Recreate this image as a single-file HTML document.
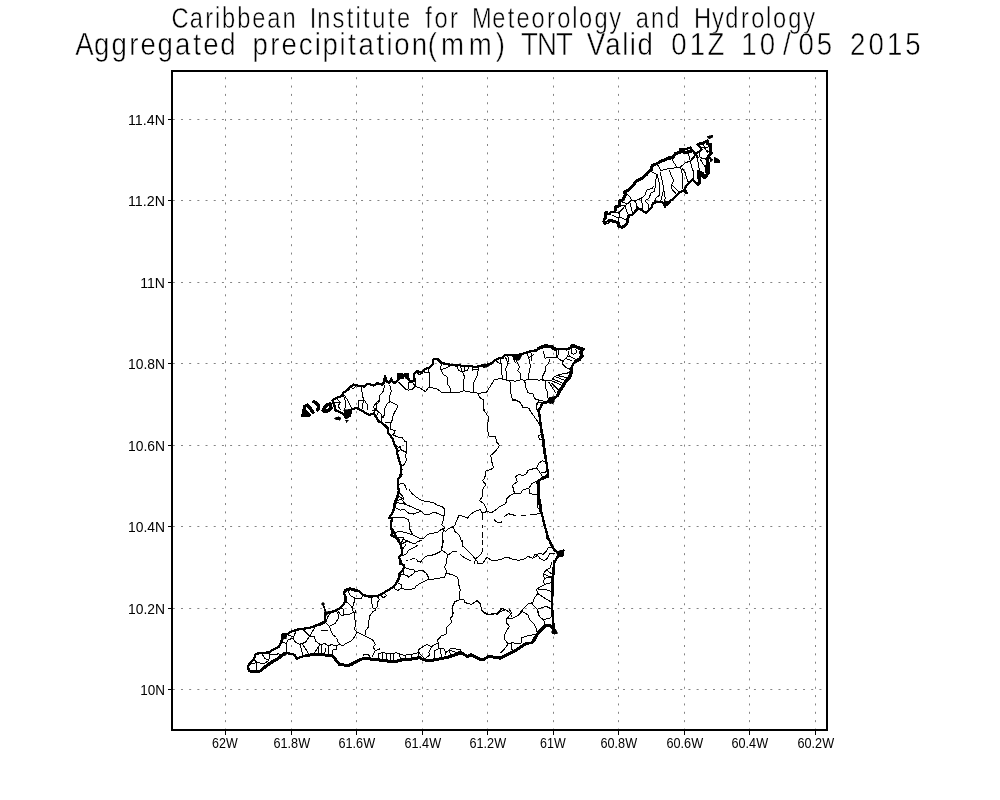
<!DOCTYPE html><html><head><meta charset="utf-8"><title>Aggregated precipitation TNT</title>
<style>
html,body{margin:0;padding:0;background:#fff;}
body{width:1000px;height:800px;overflow:hidden;position:relative;}
svg{position:absolute;left:0;top:0;display:block;filter:grayscale(1);}
text{font-family:"Liberation Sans",sans-serif;fill:#000;}
.t1{font-size:30px;stroke:#fff;stroke-width:0.5px;paint-order:fill stroke;}
.t2{font-size:31.4px;stroke:#fff;stroke-width:0.5px;paint-order:fill stroke;}
.ax{font-size:14.3px;}
.gh{stroke:#848484;stroke-width:1;stroke-dasharray:2 6.185;fill:none;}
.gv{stroke:#848484;stroke-width:1;stroke-dasharray:2 6.35;fill:none;}
.frame{stroke:#000;stroke-width:2;fill:none;shape-rendering:crispEdges;}
.tick{stroke:#000;stroke-width:1;fill:none;shape-rendering:crispEdges;}
.coast{shape-rendering:crispEdges;stroke:#000;stroke-width:2.3;fill:none;stroke-linejoin:round;stroke-linecap:round;}
.thick{shape-rendering:crispEdges;stroke:#000;stroke-width:3.4;fill:none;stroke-linejoin:round;stroke-linecap:round;}
.c3{shape-rendering:crispEdges;stroke:#000;stroke-width:3;fill:none;stroke-linejoin:round;stroke-linecap:round;}
.med{shape-rendering:crispEdges;stroke:#000;stroke-width:1.5;fill:none;stroke-linecap:round;}
.inner{shape-rendering:crispEdges;stroke:#000;stroke-width:1;fill:none;stroke-linejoin:round;stroke-linecap:round;}
</style></head><body>
<svg width="1000" height="800" viewBox="0 0 1000 800">
<rect x="0" y="0" width="1000" height="800" fill="#fff"/>
<g><line class="gv" x1="225.5" y1="730.5" x2="225.5" y2="72"/><line class="gv" x1="291.5" y1="730.5" x2="291.5" y2="72"/><line class="gv" x1="356.5" y1="730.5" x2="356.5" y2="72"/><line class="gv" x1="422.5" y1="730.5" x2="422.5" y2="72"/><line class="gv" x1="487.5" y1="730.5" x2="487.5" y2="72"/><line class="gv" x1="553.5" y1="730.5" x2="553.5" y2="72"/><line class="gv" x1="618.5" y1="730.5" x2="618.5" y2="72"/><line class="gv" x1="684.5" y1="730.5" x2="684.5" y2="72"/><line class="gv" x1="749.5" y1="730.5" x2="749.5" y2="72"/><line class="gv" x1="815.5" y1="730.5" x2="815.5" y2="72"/><line class="gh" x1="172.8" y1="689.5" x2="826" y2="689.5"/><line class="gh" x1="172.8" y1="608.5" x2="826" y2="608.5"/><line class="gh" x1="172.8" y1="526.5" x2="826" y2="526.5"/><line class="gh" x1="172.8" y1="445.5" x2="826" y2="445.5"/><line class="gh" x1="172.8" y1="363.5" x2="826" y2="363.5"/><line class="gh" x1="172.8" y1="282.5" x2="826" y2="282.5"/><line class="gh" x1="172.8" y1="200.5" x2="826" y2="200.5"/><line class="gh" x1="172.8" y1="119.5" x2="826" y2="119.5"/></g>
<g class="inner"><path d="M625.9 192.5 L630.0 197.0 L631.5 200.0 L634.5 200.8 L636.0 203.0 L637.5 207.5 L638.2 208.2 M634.5 200.8 L640.9 198.5 L645.0 195.5 L646.5 190.2 L652.5 188.0 L654.0 185.8 M640.9 198.5 L642.0 203.0 L642.8 207.5 L641.2 209.8 M645.0 200.8 L648.8 198.5 L651.0 193.2 L654.8 191.0 L655.5 181.2 L657.0 174.5 L652.5 172.2 M645.0 200.8 L648.0 203.8 L648.0 208.2 L649.5 209.8 M654.0 203.0 L656.2 197.8 L659.2 195.5 L660.0 187.2 L658.5 179.8 L657.0 174.5 M660.8 201.5 L662.2 194.8 L663.8 189.5 L661.5 177.5 L660.0 172.2 M663.8 203.0 L665.2 198.5 L664.5 194.0 L663.8 189.5 M619.9 200.8 L624.8 203.0 L628.5 203.0 L631.5 200.0 M616.1 207.5 L621.0 206.0 L625.5 205.2 L628.5 203.0 M625.5 205.2 L626.2 210.5 L628.9 215.8 M614.2 212.0 L618.8 212.8 L620.2 217.2 L624.8 219.5 L627.4 219.5 M618.8 212.8 L622.5 209.0 L625.5 205.2 M612.0 215.0 L618.0 218.0 L620.2 217.2 M618.0 218.0 L618.8 222.5 M630.0 203.0 L631.5 209.0 L633.0 214.2 M636.0 203.0 L636.8 206.0 L636.0 210.5 M657.2 164.2 L661.0 170.6 L666.2 169.1 L670.0 168.8 L676.0 167.6 L680.5 167.2 L685.0 162.8 L690.2 161.2 L694.0 157.5 L697.0 153.8 M672.2 159.8 L676.0 165.8 L677.5 167.6 M688.0 153.0 L689.5 157.5 L690.2 161.2 M690.2 161.2 L692.5 169.5 L694.0 172.5 L693.2 179.2 M680.5 167.2 L682.0 173.2 L682.8 180.0 L682.0 185.2 L683.5 190.5 M682.0 168.0 L685.0 172.5 L686.5 177.8 L688.0 181.5 M669.2 170.2 L671.5 176.2 L673.8 180.8 L671.5 185.2 L672.2 189.8 L675.2 192.8 L676.8 195.0 M672.2 185.2 L676.0 189.0 L679.0 192.0 M697.0 154.5 L697.8 161.2 L699.2 168.8 L698.5 175.5 M700.0 159.0 L703.8 165.0 L706.0 168.8 M691.8 158.8 L694.8 155.0 L695.5 153.5 M696.2 153.5 L696.2 157.2 L699.2 158.0 M699.2 153.5 L700.0 157.2 L703.0 158.8 L706.0 158.0 M701.5 173.0 L702.2 176.8 M703.0 144.5 L705.2 148.2 L707.5 152.8 M700.8 146.8 L704.5 148.2 L709.0 146.8 M706.0 149.8 L709.8 152.8 M342.9 393.2 L347.8 400.4 L351.6 408.1 M342.9 393.2 L345.4 401.4 L344.9 410.1 M336.2 398.0 L340.1 402.4 L338.1 406.2 L341.0 410.1 M333.8 402.4 L340.1 402.4 M361.2 387.9 L363.2 398.5 L367.0 404.3 L367.0 410.1 M358.3 408.1 L358.3 400.4 L363.2 400.4 L362.7 408.1 M374.7 413.4 L373.7 406.2 L377.6 401.4 L380.0 400.4 M350.6 386.9 L353.5 388.9 L356.4 385.5 M398.9 382.4 L402.7 386.2 L405.6 389.1 L408.5 390.1 L412.4 389.1 L415.2 386.2 L420.1 388.1 L425.4 391.5 L428.7 387.2 L433.5 388.1 L437.4 389.1 L442.2 392.9 L449.9 392.0 L452.8 392.9 L460.0 392.5 M408.5 382.4 L408.5 388.1 M408.5 382.4 L412.4 382.4 L415.2 386.2 M415.2 378.5 L415.7 386.2 M428.7 368.9 L429.7 378.5 L429.2 387.2 M441.2 363.1 L440.8 369.8 L443.2 374.6 L447.0 376.6 L447.0 383.3 L449.9 387.2 L450.4 392.0 M440.8 369.8 L446.0 367.9 L449.9 366.0 M384.4 385.2 L383.5 391.0 L379.6 395.8 L379.1 401.6 L376.7 404.5 L376.3 409.3 L373.9 412.2 M389.7 385.2 L391.2 391.0 L389.2 397.8 L390.2 401.6 L387.3 403.5 L384.4 409.3 L384.9 413.2 L383.5 417.0 M390.2 401.6 L397.9 405.4 L396.0 410.3 L392.6 417.0 M423.9 369.4 L424.4 372.7 L428.2 372.7 M416.2 371.8 L419.1 374.6 L422.5 373.7 M456.7 365.8 L458.7 370.6 L462.5 371.6 L467.3 370.6 L469.2 366.8 M460.6 366.3 L461.6 371.1 M464.4 366.8 L464.4 371.1 M472.1 367.2 L472.6 370.1 L477.9 369.2 M459.6 392.3 L463.5 390.8 L469.2 391.8 L474.1 392.8 L478.9 393.2 L486.6 392.3 L490.4 386.0 L494.3 379.8 L502.0 378.3 L502.9 379.8 L509.7 380.2 L515.5 381.2 L520.3 379.8 L525.1 380.2 L529.9 379.3 L540.0 380.2 M462.5 372.1 L464.4 376.4 L463.5 383.1 L463.5 390.8 M478.4 368.7 L476.9 376.4 L473.6 383.1 L473.1 391.8 M477.9 393.7 L479.8 397.6 L483.2 399.5 L483.7 408.2 L484.6 412.0 M502.0 363.9 L501.5 371.6 L502.5 378.3 M505.4 357.1 L508.2 363.9 L505.8 368.7 L506.8 379.3 M516.4 361.0 L519.3 366.8 L517.9 370.6 L520.3 373.5 L520.8 379.8 M528.9 358.1 L530.4 365.8 L528.9 373.5 L528.9 379.3 M509.7 380.2 L511.1 387.0 L510.2 390.8 L512.1 398.5 L519.3 401.4 L523.2 407.2 L528.9 408.2 L530.9 412.0 M524.6 380.2 L526.0 387.9 L528.0 392.8 L532.8 393.7 L534.7 398.5 L540.0 400.4 M507.8 355.7 L508.7 361.9 M512.6 356.2 L515.5 362.9 M527.0 353.3 L528.9 358.1 L533.7 354.2 M530.9 351.4 L531.8 361.0 M496.2 361.0 L500.1 363.9 L502.0 363.9 M500.1 358.6 L500.5 363.9 M540.0 379.8 L543.1 380.2 L547.0 380.7 L551.8 380.2 L553.7 377.4 L558.5 374.5 L565.2 373.5 L570.0 372.5 M543.1 350.9 L545.0 358.1 L550.8 357.6 L556.6 357.1 L556.6 350.4 M549.8 359.1 L548.9 362.9 L546.0 365.8 L545.0 371.6 L542.6 376.4 L543.1 380.2 M556.6 357.1 L560.4 360.0 L563.3 360.5 L562.4 363.9 L566.2 367.7 L570.0 369.2 M563.3 360.5 L567.2 357.1 L570.0 355.2 M568.1 351.4 L569.1 355.2 M572.0 349.4 L571.0 353.3 L573.9 354.2 L576.8 352.3 L575.8 349.4 M565.2 358.1 L572.0 361.0 M567.2 355.7 L574.9 358.6 M554.6 376.4 L564.3 380.2 M552.7 381.2 L561.4 385.1 M551.8 383.1 L558.5 389.9 M548.9 382.2 L555.6 392.8 M546.0 381.2 L545.0 387.0 L547.9 392.8 L547.9 397.6 M556.6 375.4 L566.2 377.4 M553.7 379.3 L562.4 383.1 M540.2 400.4 L545.0 401.4 M558.5 350.4 L558.5 354.2 L556.6 357.1 M542.4 402.9 L537.5 402.9 L536.1 407.7 L538.5 410.6 M541.4 433.7 L538.5 436.1 L539.5 439.5 L542.8 439.9 M512.5 400.0 L519.2 401.4 L523.1 407.7 L527.9 407.7 L532.7 414.4 L537.5 421.2 L539.5 424.1 M527.9 470.3 L536.6 467.9 L538.5 463.5 L542.4 460.6 L544.8 461.6 M536.6 467.9 L540.4 473.2 L545.2 472.2 L547.2 471.2 M540.4 473.2 L542.4 477.0 M535.4 399.0 L539.2 400.4 L536.4 404.3 L536.4 409.1 L539.2 411.0 M537.1 496.9 L537.1 507.5 L539.5 508.5 L540.0 512.4 M528.9 470.0 L526.0 473.9 L523.1 475.8 L519.2 474.3 L515.4 476.7 L517.3 481.6 L512.5 485.4 L514.4 493.1 L509.6 496.0 L506.7 498.9 L505.8 503.7 L500.0 506.6 M514.4 493.1 L520.2 494.1 L523.1 489.7 L528.9 488.3 L531.8 483.5 L537.5 480.6 M528.9 488.3 L529.8 493.6 L537.1 495.0 M500.0 522.5 L501.4 521.5 M504.3 516.7 L508.7 513.3 L512.5 515.0 L515.4 515.2 M521.2 515.2 L526.0 515.2 M529.8 515.0 L533.7 514.6 L540.0 513.3 M546.2 536.4 L547.2 539.3 L549.1 540.3 M500.0 560.2 L502.9 558.3 L507.7 557.3 L513.5 559.7 L519.2 560.2 L525.0 558.8 L527.9 556.4 L532.7 558.3 L534.6 554.9 L539.5 553.5 L543.3 554.4 L546.2 551.5 L548.1 547.7 L552.0 547.2 M532.7 558.3 L537.5 555.4 L540.4 558.8 L544.3 560.7 L547.2 558.3 L550.0 553.5 L554.9 553.5 M552.0 562.1 L550.0 567.9 L546.2 569.8 L543.3 573.7 L544.3 578.5 L543.3 582.4 L545.2 584.3 L536.6 589.1 L537.5 593.9 L534.6 597.8 L532.7 602.6 L527.9 604.0 L522.1 610.3 L516.4 617.0 M546.2 569.8 L552.9 574.6 M543.3 573.7 L552.5 578.5 M544.3 578.5 L552.0 576.6 M545.2 584.3 L552.5 582.4 M538.5 590.0 L545.2 589.1 L552.0 592.0 M538.5 593.9 L544.3 597.8 L552.0 602.6 M531.8 603.5 L537.5 609.3 L546.2 606.4 L552.0 609.3 M537.5 609.3 L539.5 617.0 M500.0 608.3 L505.8 609.8 L510.6 613.2 L511.6 617.0 M522.1 611.4 L527.9 614.8 L529.8 619.6 L533.7 623.5 L536.6 629.2 L537.1 632.1 M522.1 611.4 L519.2 614.8 L512.5 618.2 L506.7 618.7 L506.3 622.5 L509.6 626.4 L506.7 630.2 L504.3 636.0 L504.8 639.8 L508.2 643.7 L504.8 648.5 L501.0 652.4 M509.6 610.0 L511.6 612.9 L508.7 616.7 L506.7 618.7 M537.5 610.0 L538.5 615.8 L543.3 619.6 L545.2 624.4 M543.3 619.6 L550.0 618.2 L552.5 615.8 M521.7 642.7 L521.2 637.9 L528.9 635.5 L535.6 634.5 M508.2 643.7 L512.5 642.7 L518.3 643.7 L521.7 642.7 M511.6 643.7 L511.1 648.5 L513.5 651.4 M452.7 610.0 L453.2 613.9 L450.8 617.7 L451.3 622.5 L446.9 627.3 L446.0 634.1 L441.2 636.0 L437.8 639.8 L438.3 645.6 L439.2 648.5 M438.3 642.7 L431.6 646.6 L426.7 644.6 L420.0 648.5 M431.6 646.6 L428.7 652.4 L429.6 655.2 L425.8 658.1 M434.4 659.1 L434.9 650.4 L439.2 648.5 L444.1 649.0 L446.0 652.4 L448.9 650.4 L450.8 648.5 L460.4 649.5 L461.4 652.4 M440.7 648.5 L441.2 657.2 M444.6 649.5 L446.0 655.2 M449.8 650.4 L456.6 652.4 L460.4 651.4 M448.9 650.4 L450.8 655.2 M481.6 610.0 L483.5 612.9 L488.3 614.8 L494.1 612.9 L497.0 614.3 L501.8 611.0 L504.7 610.0 M378.5 653.3 L383.3 652.8 L390.1 653.8 L396.8 652.8 L403.5 655.2 L409.3 654.8 L416.0 653.3 L418.9 652.4 M382.4 653.3 L382.8 659.1 M386.2 653.3 L387.2 660.0 M390.1 653.8 L390.5 660.0 M393.4 653.3 L393.9 660.0 M399.7 653.8 L400.2 659.1 M405.4 655.2 L405.4 658.6 M411.2 654.3 L411.2 658.1 M378.5 653.3 L379.0 658.6 M376.1 610.0 L372.7 611.9 L369.8 615.8 L368.9 620.6 L368.9 626.4 L366.0 630.2 L365.5 635.0 M355.4 610.0 L354.4 617.7 L355.9 623.5 L354.4 629.2 L357.3 632.1 L364.1 635.5 L368.9 637.9 L373.7 640.8 L375.1 644.6 L373.2 647.5 L375.6 650.4 L373.7 653.3 L372.7 656.2 M357.3 632.1 L354.4 637.0 L351.6 640.8 L345.8 643.7 L342.9 645.6 L340.0 644.6 M375.6 650.4 L379.5 649.0 M363.1 655.2 L367.9 654.3 L369.8 657.2 M418.9 658.1 L418.9 649.5 L420.0 648.5 M418.9 652.4 L423.7 658.1 M255.9 653.9 L254.4 659.7 L256.8 662.6 L256.4 669.3 M249.6 664.5 L256.8 662.6 L264.1 663.5 L268.9 660.6 M262.1 653.9 L265.0 658.7 L268.9 659.7 L269.8 654.9 L268.9 652.5 M269.8 654.9 L278.5 653.9 L283.3 654.9 M281.4 642.4 L286.2 643.3 L286.2 652.0 M286.2 643.3 L288.1 639.5 L292.9 638.5 L295.8 642.4 L299.7 644.3 L301.6 650.0 L302.6 655.8 M292.9 638.5 L295.8 631.8 M287.2 634.6 L292.9 636.6 M299.7 644.3 L305.4 642.4 L309.3 636.6 L312.2 631.8 L315.1 627.0 M303.5 629.8 L309.3 635.6 M309.3 636.6 L314.1 636.6 L316.0 641.4 L319.9 644.3 L317.0 649.1 L314.1 652.9 M302.6 644.3 L306.4 650.0 L308.3 653.4 M321.8 630.3 L326.6 630.3 M348.5 591.8 L350.4 595.6 L355.2 598.5 L361.0 599.0 L362.5 595.6 M355.2 598.5 L353.8 603.3 L352.4 608.1 L353.3 612.0 L355.2 612.9 M345.6 601.4 L349.5 604.3 L352.4 608.1 M339.8 608.1 L343.7 609.1 L343.7 614.9 L348.5 614.9 L353.3 612.5 M337.9 611.0 L340.8 614.9 L343.7 615.4 M330.2 612.5 L327.3 617.8 L325.9 621.6 M337.9 612.0 L338.4 618.7 L335.0 623.5 L329.2 626.4 L325.9 622.6 M329.2 626.4 L331.2 631.2 L333.1 635.1 L336.0 637.0 M371.6 597.5 L371.6 602.4 L373.1 608.1 L375.4 609.1 L377.4 606.2 L377.4 602.4 L379.3 599.5 L377.4 596.6 M375.4 609.1 L375.1 610.0 M380.3 594.6 L383.2 598.0 L386.5 595.6 L384.1 592.7 M322.5 630.3 L327.3 630.3 M405.5 545.0 L402.5 549.5 L402.5 554.0 M418.2 545.0 L413.0 548.0 L408.5 550.2 L406.2 554.0 L402.5 555.5 M406.2 560.4 L407.8 560.4 M410.0 560.0 L413.0 558.5 L414.5 558.5 M416.0 559.2 L418.2 561.5 L420.5 562.2 L423.5 558.5 L425.8 556.2 L431.0 555.5 L435.5 554.0 L440.0 551.8 L441.5 550.2 L442.2 545.0 M441.5 550.2 L445.2 552.5 L447.5 554.8 L450.0 554.4 M447.5 554.8 L446.8 559.2 L446.0 563.8 L444.5 566.8 L446.0 569.8 L446.0 573.5 L444.5 577.2 L440.0 578.0 L436.2 578.4 L431.8 579.9 L428.8 579.1 M446.0 573.5 L450.0 573.1 M404.8 567.5 L409.2 569.0 L413.8 569.8 L415.2 572.0 L419.0 570.5 L422.8 570.5 L426.5 573.5 L428.8 578.0 L428.8 579.1 L425.0 581.0 L420.5 583.2 L416.0 586.2 L414.5 588.5 L410.8 589.2 L404.0 589.2 L401.8 587.8 L401.4 584.8 L398.0 583.2 M415.2 572.0 L411.5 575.0 L408.5 577.2 L407.0 575.4 L403.2 574.6 M401.8 587.8 L398.0 590.4 L395.0 589.2 L394.6 585.5 M400.2 571.2 L403.2 571.6 L403.6 575.0 L400.2 574.6 M409.5 490.0 L412.4 493.9 L417.2 497.7 L422.0 500.6 L427.8 501.6 L433.5 502.5 L437.4 505.4 L442.2 506.4 L444.6 509.2 L444.1 515.0 L443.2 520.8 L441.7 524.6 L444.6 527.5 L443.2 529.5 M399.8 492.9 L403.7 497.7 L402.7 500.6 M396.0 500.6 L401.8 499.6 L405.6 504.4 L410.4 506.4 L416.2 509.2 L421.0 510.7 L423.9 514.1 L427.8 515.0 L432.6 512.6 L437.4 513.1 L441.2 515.0 L444.1 515.0 M394.1 507.3 L400.8 510.2 L403.7 509.2 L408.5 513.1 L413.3 514.1 L420.1 511.7 M397.9 495.8 L402.7 498.7 M396.9 502.5 L401.8 503.5 L405.6 504.4 M393.1 517.9 L398.9 517.9 L403.7 517.4 L408.5 519.8 L409.9 524.6 L409.5 528.5 L411.4 532.4 L412.4 534.3 M395.0 532.4 L399.8 531.4 L405.6 532.4 L412.4 534.8 L417.2 537.2 L422.0 539.1 L424.9 537.2 L427.8 534.3 L432.6 533.3 L437.4 532.4 L441.2 529.5 L443.2 529.5 M397.9 538.1 L402.7 537.2 L404.6 540.0 L407.5 541.0 L411.4 542.9 L415.2 543.9 L417.2 542.0 L422.0 540.0 M400.8 543.9 L403.2 539.1 L404.6 540.0 M401.8 543.9 L407.5 541.0 M443.2 529.5 L442.7 536.2 L443.2 542.0 L442.2 546.8 M396.1 410.0 L393.2 413.9 L392.7 418.7 L390.8 423.5 L390.8 429.2 M385.0 422.5 L390.8 422.5 M390.8 429.2 L395.1 430.7 L394.2 433.1 L392.7 434.6 L399.5 437.9 L402.4 437.9 L404.8 441.3 L406.7 441.8 L406.2 448.5 L406.7 452.4 L405.2 456.2 L406.7 459.1 L404.8 463.9 L402.4 465.8 M394.2 443.7 L398.5 447.5 L400.4 446.6 L400.4 449.5 L406.2 452.4 M396.6 452.4 L400.4 449.5 M398.0 485.1 L401.4 483.2 L404.3 484.1 L405.7 487.0 L407.2 490.1 M400.4 476.4 L402.4 474.5 L400.9 471.6 M372.7 410.8 L375.6 408.9 L378.5 411.8 L381.4 414.6 L381.4 420.4 M378.5 411.8 L376.6 415.6 M484.0 410.6 L488.3 416.4 L487.9 424.1 L487.9 431.8 L488.8 436.1 L495.1 436.6 L497.0 442.4 L499.4 445.2 L498.0 448.1 L494.1 452.5 L490.8 455.4 L491.7 461.6 L493.6 467.4 L491.2 469.3 L485.9 471.2 L485.4 477.0 M485.4 472.9 L484.9 477.7 L482.5 480.6 L485.8 484.4 L482.9 489.2 L482.5 496.0 L479.6 500.8 L483.9 503.7 L486.3 508.5 L486.8 511.4 M486.8 511.4 L491.6 512.8 L497.4 508.5 L500.1 506.4 M486.8 511.4 L482.5 513.3 L480.1 509.5 L475.2 511.4 L470.4 514.3 L467.5 518.1 L463.7 516.2 L458.9 515.7 L456.9 520.0 L455.0 524.9 L453.1 526.8 L448.3 528.7 L445.4 531.6 L442.5 528.7 M453.1 526.8 L455.0 531.6 L458.9 534.5 L460.8 539.3 L462.7 543.2 L462.7 547.0 M482.0 513.3 L482.0 520.0 M482.0 524.9 L482.0 527.8 M482.5 532.6 L482.5 537.4 M482.5 540.3 L482.5 544.1 M494.5 520.0 L497.4 522.5 L501.7 522.0 M504.1 516.7 L508.0 513.8 L511.8 514.8 L515.7 515.2 M443.0 540.0 L442.5 545.8 L441.6 550.6 M447.3 555.4 L453.1 551.5 L456.5 552.0 M460.8 554.9 L464.6 557.8 L470.4 560.7 M445.9 573.7 L451.2 574.2 L457.9 577.5 L458.4 583.3 L460.3 590.0 L459.4 593.9 L459.8 599.7 L463.7 599.7 L465.1 602.6 L471.4 604.5 L477.2 600.6 L480.1 603.5 L482.0 611.2 L487.8 614.1 L493.5 614.1 L497.4 613.2 L501.7 608.8 L503.2 608.5 M459.8 599.7 L455.0 601.6 L452.1 607.4 L452.6 613.2 L452.1 617.0 M462.7 540.0 L462.7 545.8 L468.5 551.5 L472.4 555.4 L475.2 559.2 L474.8 564.1 M482.5 540.0 L482.5 543.9 M482.9 548.7 L482.9 549.6 L481.0 554.4 L475.2 559.2 M477.2 563.1 L482.9 563.1 L486.8 557.3 L491.6 560.2 L497.4 560.2 L500.3 559.4 M477.2 563.1 L477.2 561.2 L475.2 559.2 M320.2 645.0 L324.8 643.5 L328.5 645.8 L331.5 644.6 L336.0 646.1 L339.8 644.2 M318.0 647.2 L318.0 652.5 M321.8 645.8 L321.8 653.2 M325.5 648.8 L324.8 653.2 M328.5 645.8 L328.5 654.0 M332.2 650.2 L333.0 654.8 M332.2 650.2 L336.8 649.5 L336.8 646.1 M363.0 654.8 L366.0 654.0 L369.0 655.5 M339.8 644.2 L338.6 642.4 L337.5 641.2 L336.8 638.2 M383.6 415.3 L381.7 418.7 L381.2 422.5"/></g>
<g class="coast"><path d="M603.8 221.8 L603.8 219.5 L605.6 218.8 L605.6 212.0 L606.6 212.0 L607.5 214.2 L610.1 214.2 L610.5 212.0 L614.2 212.0 L616.1 209.8 L615.0 207.1 L619.1 206.0 L619.9 200.8 L623.2 199.6 L625.1 195.5 L624.8 191.8 L628.5 190.2 L631.5 187.2 L633.8 184.6 L635.2 182.0 L639.0 179.8 L643.1 177.5 L646.5 174.5 L648.8 171.5 L651.8 170.0 M603.8 221.8 L605.2 223.2 L607.5 222.5 L609.8 220.2 L612.4 221.0 L615.0 221.8 L618.0 222.5 L618.8 226.2 L621.8 227.4 L624.8 226.2 L627.0 223.2 L627.4 219.5 L628.9 215.8 L633.0 214.2 L636.0 210.5 L638.2 208.2 L641.2 209.8 L644.2 212.0 L646.5 212.8 L649.5 209.8 L651.8 206.8 L653.2 203.0 L657.0 202.2 L660.8 201.5 L663.8 203.0 L664.9 206.8 L666.0 203.8 L669.8 202.2 M651.8 170.0 L652.0 165.8 L657.2 163.5 L661.0 161.2 L664.8 159.8 L669.2 157.5 L673.0 157.5 L675.2 153.8 L679.8 152.2 L682.8 150.8 L685.0 153.0 L688.8 151.5 L692.5 150.8 M669.8 202.3 L664.8 206.2 L665.5 201.8 L669.2 201.8 L673.0 198.8 L676.8 195.0 L679.0 192.8 L683.5 190.5 L686.5 193.1 L685.0 189.0 L686.5 185.2 L689.5 182.2 L692.5 179.2 L695.5 182.2 L697.8 184.5 L699.2 181.5 L699.2 175.5 L700.0 172.5 L703.8 174.8 L705.2 177.0 L706.8 174.0 L706.0 168.8 L706.8 164.2 L707.5 159.8 L709.8 157.5 M670.0 158.8 L673.8 155.0 L679.8 151.2 L680.5 149.0 L685.8 149.0 L690.2 147.5 L693.2 151.2 L694.8 153.5 L698.5 152.0 L701.5 149.8 L700.0 146.8 L697.8 144.5 L703.0 143.0 L707.5 140.8 L707.5 143.8 L710.5 144.5 L710.9 150.5 L711.2 153.5 L708.2 156.5 L706.8 159.5 L709.0 164.0 L708.2 170.0 L708.2 173.0 L705.2 177.5 L703.0 176.8 L702.2 173.0 L698.5 171.5 L698.5 177.5 L700.0 181.2 L698.5 184.2 M332.4 400.4 L336.2 398.0 L342.0 396.1 L342.9 393.2 L347.8 389.8 L350.6 386.5 L353.5 384.6 L359.3 386.0 L364.1 386.5 L368.0 383.6 L373.7 385.5 L377.6 383.1 L380.0 384.1 M332.4 400.4 L334.3 405.2 L335.2 410.1 L339.1 412.0 L343.9 413.9 L345.8 417.8 L349.7 415.8 L351.6 409.1 L356.4 408.1 L361.2 410.1 L366.0 413.4 L369.9 414.9 L373.7 413.4 L376.6 417.8 L378.6 421.6 L380.0 421.6 M380.0 384.0 L382.5 384.8 L384.4 381.4 L384.9 376.1 L386.8 381.4 L389.2 383.3 L391.2 378.5 L393.1 382.4 L396.0 382.4 L398.4 379.5 L397.9 373.7 L401.8 373.7 L402.7 378.0 L405.1 373.7 L408.0 373.7 L408.5 379.5 L410.4 381.4 L414.3 380.4 L413.8 374.6 L417.2 370.8 L421.0 372.7 L424.9 368.9 L428.7 367.9 L432.6 364.6 L433.5 359.2 L437.4 358.8 L441.2 362.6 L446.0 364.1 L451.8 365.0 L456.6 365.5 L460.0 365.0 M460.0 365.0 L460.6 365.8 L465.4 366.3 L470.2 365.8 L475.0 367.2 L480.8 365.8 L486.6 364.8 L491.4 363.4 L495.2 360.0 L499.1 358.1 L502.9 357.6 L504.9 355.2 L509.7 354.7 L515.5 355.7 L521.2 354.2 L527.0 352.3 L531.8 350.9 L536.6 350.4 L540.0 348.0 M540.0 348.0 L545.0 345.6 L550.8 346.1 L555.6 349.4 L561.4 349.0 L567.2 349.4 L571.0 347.5 L572.9 345.1 L577.8 347.5 L583.5 349.4 L580.6 352.3 L582.6 355.7 L579.7 359.1 L575.8 361.0 L572.9 363.9 L571.5 368.7 L571.0 373.5 L569.1 378.3 L565.2 382.2 L562.4 387.0 L559.5 390.8 L557.5 395.6 L553.7 398.5 L552.7 402.4 L547.9 401.4 M550.0 401.9 L542.4 402.9 L540.4 407.7 L538.5 410.6 L540.0 419.2 L541.4 428.9 L543.3 438.5 L544.3 448.1 L545.7 457.8 L547.2 467.4 L548.1 477.0 M539.5 414.4 L540.9 428.9 L542.8 438.5 L543.8 448.1 L545.2 457.8 M547.2 470.0 L548.1 473.9 L547.2 476.7 L540.4 479.6 L537.5 481.6 L538.0 489.2 L538.5 498.9 L540.4 508.5 L542.4 516.2 L545.2 527.8 L548.1 537.4 L552.0 547.0 M548.1 474.8 L538.5 480.6 L538.5 489.2 L539.3 498.9 L541.2 508.5 M549.1 540.0 L552.0 545.8 L554.9 550.6 L557.8 552.5 L563.5 550.6 L562.6 555.4 L557.8 556.4 L555.8 560.2 L553.9 563.1 L553.4 573.7 L552.9 583.3 L552.5 592.9 L552.0 602.6 L552.0 612.2 L552.5 617.0 M554.4 561.2 L552.8 573.7 L552.5 583.3 L552.0 593.9 M552.5 610.0 L552.9 619.6 L553.9 627.3 L554.9 631.2 M553.4 629.2 L550.0 625.4 L545.2 625.4 L541.4 629.2 L537.5 633.1 L534.6 637.9 L531.8 642.7 L525.0 643.7 L519.2 647.5 L513.5 651.4 L506.7 654.3 L500.0 658.1 M545.2 626.4 L538.5 633.1 L533.2 642.2 L525.0 644.5 L513.5 652.2 L500.0 658.9 M499.9 657.2 L495.1 657.2 L489.3 655.7 L483.5 659.1 L479.7 658.6 L474.9 656.2 L471.0 654.3 L467.2 656.2 L463.3 653.3 L458.5 653.3 L452.7 655.2 L446.9 657.2 L441.2 658.1 L434.4 659.6 L427.7 660.0 L422.9 659.1 L420.0 657.6 M499.9 657.9 L495.1 657.9 L489.3 656.5 L483.5 659.9 L479.7 659.4 L474.9 657.0 L471.0 655.0 L467.2 657.0 L463.3 654.1 L458.5 654.1 L452.7 656.0 L446.9 657.9 L441.2 658.9 L434.4 660.3 L427.7 660.8 L422.9 659.9 L420.0 658.4 M419.9 657.2 L415.1 658.1 L407.4 659.1 L401.6 659.6 L395.8 661.0 L390.1 661.0 L382.4 660.0 L376.6 659.1 L369.8 658.6 M419.9 657.9 L415.1 658.9 L407.4 659.9 L401.6 660.3 L395.8 661.8 L390.1 661.8 L382.4 660.8 L376.6 659.9 L369.8 659.4 M247.7 667.4 L249.6 663.5 L253.5 659.7 L255.9 653.9 L262.1 652.9 L268.9 652.5 L272.7 650.0 L278.5 647.2 L281.4 642.4 L282.4 634.6 L287.2 634.2 L291.0 631.8 L295.8 629.8 L302.6 628.9 L309.3 627.9 L316.0 625.5 L321.8 623.1 L324.7 621.7 M247.7 667.4 L249.6 671.2 L255.4 672.2 L261.2 671.2 L265.0 667.4 L271.8 662.6 L278.5 658.7 L283.3 654.9 L286.2 652.9 L291.0 653.9 L294.9 654.9 L296.8 658.7 L301.6 656.8 L307.4 654.9 M250.1 670.8 L255.4 671.4 L260.7 670.5 L264.6 666.7 L271.3 661.9 L278.0 658.0 L282.8 654.2 M319.6 625.0 L322.5 623.5 L325.4 621.6 L324.9 616.8 L325.9 612.9 L330.2 612.5 L336.0 610.5 L339.8 608.1 L342.7 605.2 L345.6 601.4 L345.6 596.6 L343.7 592.7 L345.6 589.8 L350.4 588.4 L355.2 589.8 L360.1 591.8 L362.9 595.1 L369.7 596.6 L377.4 596.1 L382.2 593.7 L387.0 590.8 L391.8 587.9 L395.7 584.1 L398.6 579.2 L400.0 574.4 M344.2 592.7 L346.1 590.6 L350.4 589.2 L354.8 590.6 M401.0 545.0 L401.8 549.5 L401.8 554.8 L398.8 557.0 L400.6 560.8 L400.2 563.8 L404.0 565.2 L404.0 568.2 L401.8 571.2 L399.5 573.5 L398.8 578.0 L397.2 581.8 L396.1 583.4 M398.9 490.0 L397.9 494.8 L396.0 499.6 L394.1 504.4 L393.6 510.2 L391.7 514.1 L388.8 518.4 L392.1 517.9 L391.2 522.7 L390.7 528.5 L393.1 532.4 L390.7 535.2 L395.0 537.2 L397.9 540.0 L400.3 543.9 L400.8 545.1 M399.4 490.0 L396.9 499.6 L394.6 506.4 M391.7 528.5 L394.1 532.4 L396.0 537.2 L398.9 540.0 M380.0 421.7 L385.0 425.4 L387.9 428.3 L387.9 433.1 L390.8 436.0 L392.7 438.9 L394.2 443.7 L396.6 448.5 L397.1 453.3 L398.5 458.1 L400.4 463.9 L401.4 469.7 L400.4 476.4 L398.0 479.3 L398.0 487.0 L398.8 490.1 M307.4 655.4 L309.0 654.8 L315.0 654.0 L321.0 654.0 L326.2 654.8 L332.2 655.5 L335.2 658.5 L337.5 661.5 L339.8 664.1 L343.5 664.5 L347.2 665.6 L351.0 664.1 L355.5 661.5 L360.0 659.2 L364.5 657.8 L370.0 658.5 M307.4 656.1 L309.0 655.5 L315.0 654.8 L321.0 654.8 L326.2 655.5 L331.9 656.2 L334.9 659.2 L337.1 662.2 L339.4 664.9 L343.5 665.2 L347.2 666.4 L351.4 664.9 L355.9 662.2 L360.4 660.0 L364.9 658.5 L370.0 659.2"/></g>
<g class="med"><path d="M323.0 603.8 L325.9 612.9"/></g>
<g class="c3"><path d="M616.1 209.8 L615.0 207.1 L619.1 206.0 L619.9 200.8 L623.2 199.6 L625.1 195.5 L624.8 191.8 L628.5 190.2 L631.5 187.2 L633.8 184.6 L635.2 182.0 L639.0 179.8 L643.1 177.5 L646.5 174.5 L648.8 171.5 L651.8 170.0 M651.8 170.0 L652.0 165.8 L657.2 163.5 L661.0 161.2 L664.8 159.8 L669.2 157.5 L673.0 157.5 L675.2 153.8 L679.8 152.2 L682.8 150.8 L685.0 153.0 L688.8 151.5 L692.5 150.8 M603.8 221.8 L605.2 223.2 L607.5 222.5 L609.8 220.2 L612.4 221.0 L615.0 221.8 L618.0 222.5 L618.8 226.2 L621.8 227.4 L624.8 226.2 L627.0 223.2 L627.4 219.5 L628.9 215.8 M697.8 144.5 L703.0 143.0 L707.5 140.8 L707.5 143.8 L710.5 144.5 L710.9 150.5 L711.2 153.5 L708.2 156.5 L706.8 159.5 L709.0 164.0 L708.2 170.0 L708.2 173.0 L705.2 177.5 L703.0 176.8 L702.2 173.0 L698.5 171.5 L698.5 177.5 L700.0 181.2 L698.5 184.2 M697.8 184.5 L699.2 181.5 L699.2 175.5 L700.0 172.5"/></g>
<g class="thick"><path d="M303.0 415.8 L304.6 406.4 L307.8 405.1 L312.9 412.3 M305.9 412.0 L309.2 415.1 L303.3 415.8 M313.9 401.6 L317.7 404.3 L318.7 407.9 L317.6 409.9 M323.2 410.8 L325.8 405.6 L330.2 403.8 L331.0 407.9 L328.5 410.6 L325.6 411.6 L323.2 410.8 M538.8 348.5 L540.7 347.3 L545.0 346.0 L550.8 346.4 L555.1 349.2 M571.5 368.7 L571.0 373.5 L569.1 378.3 L565.2 382.2 L562.4 387.0 L559.5 390.8 L557.5 395.6 M571.0 347.5 L572.9 345.4 L577.8 347.5 L583.0 349.4 L580.6 352.3 L582.1 355.7 L579.7 359.1 L575.8 361.0"/></g>
<g fill="#000" stroke="#000" stroke-width="0.6" shape-rendering="crispEdges"><path d="M714.2 156.9 L719.5 160.1 L719.6 162.7 L714.1 162.7Z"/><path d="M710.0 157.8 L712.9 159.5 L710.5 161.9Z"/><path d="M707.0 136.4 L710.5 135.5 L712.9 134.9 L712.9 137.0 L709.0 139.0Z"/><path d="M334.3 418.2 L338.1 416.8 L341.0 417.8 L340.1 420.2 L336.2 419.7Z"/><path d="M345.4 420.2 L348.2 420.2 L346.8 422.6Z"/><path d="M343.9 410.1 L351.6 409.1 L350.6 415.8 L346.8 418.7 L344.4 414.9Z"/><path d="M397.9 373.2 L401.8 373.2 L402.2 378.5 L398.4 379.0Z"/><path d="M405.1 373.2 L408.5 373.2 L408.7 379.5 L405.6 378.5Z"/><path d="M511.6 355.7 L522.2 354.2 L519.3 360.0 L516.4 360.5Z"/><path d="M481.8 365.8 L488.5 363.4 L489.5 365.8 L483.7 368.2Z"/><path d="M548.9 397.6 L553.7 396.6 L554.6 401.4 L550.8 403.8 L547.0 401.9Z"/><path d="M556.8 551.5 L563.5 550.1 L563.0 555.9 L557.8 556.6Z"/><path d="M551.5 630.7 L555.8 629.7 L557.8 633.1 L553.9 634.5 L551.5 633.1Z"/><path d="M282.4 634.2 L287.2 633.7 L286.2 638.5 L282.8 639.5Z"/><path d="M283.3 652.0 L287.2 652.5 L285.2 655.8 L282.4 655.4Z"/><path d="M321.6 602.8 L324.0 602.8 L324.4 605.2 L322.0 605.2Z"/><path d="M324.0 612.0 L327.8 611.5 L327.3 614.9 L324.4 615.4Z"/></g>
<rect class="frame" x="172" y="71" width="655" height="659"/>
<g><line class="tick" x1="225.5" y1="731" x2="225.5" y2="734.5"/><line class="tick" x1="291.5" y1="731" x2="291.5" y2="734.5"/><line class="tick" x1="356.5" y1="731" x2="356.5" y2="734.5"/><line class="tick" x1="422.5" y1="731" x2="422.5" y2="734.5"/><line class="tick" x1="487.5" y1="731" x2="487.5" y2="734.5"/><line class="tick" x1="553.5" y1="731" x2="553.5" y2="734.5"/><line class="tick" x1="618.5" y1="731" x2="618.5" y2="734.5"/><line class="tick" x1="684.5" y1="731" x2="684.5" y2="734.5"/><line class="tick" x1="749.5" y1="731" x2="749.5" y2="734.5"/><line class="tick" x1="815.5" y1="731" x2="815.5" y2="734.5"/><line class="tick" x1="168" y1="689.5" x2="171" y2="689.5"/><line class="tick" x1="168" y1="608.5" x2="171" y2="608.5"/><line class="tick" x1="168" y1="526.5" x2="171" y2="526.5"/><line class="tick" x1="168" y1="445.5" x2="171" y2="445.5"/><line class="tick" x1="168" y1="363.5" x2="171" y2="363.5"/><line class="tick" x1="168" y1="282.5" x2="171" y2="282.5"/><line class="tick" x1="168" y1="200.5" x2="171" y2="200.5"/><line class="tick" x1="168" y1="119.5" x2="171" y2="119.5"/></g>
<g><text class="ax" x="212.1" y="748.2" textLength="25.6" lengthAdjust="spacingAndGlyphs">62W</text><text class="ax" x="273.5" y="748.2" textLength="36.6" lengthAdjust="spacingAndGlyphs">61.8W</text><text class="ax" x="338.5" y="748.2" textLength="36.6" lengthAdjust="spacingAndGlyphs">61.6W</text><text class="ax" x="404.5" y="748.2" textLength="36.6" lengthAdjust="spacingAndGlyphs">61.4W</text><text class="ax" x="469.5" y="748.2" textLength="36.6" lengthAdjust="spacingAndGlyphs">61.2W</text><text class="ax" x="540.1" y="748.2" textLength="25.6" lengthAdjust="spacingAndGlyphs">61W</text><text class="ax" x="600.5" y="748.2" textLength="36.6" lengthAdjust="spacingAndGlyphs">60.8W</text><text class="ax" x="666.5" y="748.2" textLength="36.6" lengthAdjust="spacingAndGlyphs">60.6W</text><text class="ax" x="731.5" y="748.2" textLength="36.6" lengthAdjust="spacingAndGlyphs">60.4W</text><text class="ax" x="797.5" y="748.2" textLength="36.6" lengthAdjust="spacingAndGlyphs">60.2W</text><text class="ax" x="140.2" y="694.6" textLength="24.8" lengthAdjust="spacingAndGlyphs">10N</text><text class="ax" x="128.0" y="613.6" textLength="37.0" lengthAdjust="spacingAndGlyphs">10.2N</text><text class="ax" x="128.0" y="531.6" textLength="37.0" lengthAdjust="spacingAndGlyphs">10.4N</text><text class="ax" x="128.0" y="450.6" textLength="37.0" lengthAdjust="spacingAndGlyphs">10.6N</text><text class="ax" x="128.0" y="368.6" textLength="37.0" lengthAdjust="spacingAndGlyphs">10.8N</text><text class="ax" x="140.2" y="287.6" textLength="24.8" lengthAdjust="spacingAndGlyphs">11N</text><text class="ax" x="128.0" y="205.6" textLength="37.0" lengthAdjust="spacingAndGlyphs">11.2N</text><text class="ax" x="128.0" y="124.6" textLength="37.0" lengthAdjust="spacingAndGlyphs">11.4N</text></g>
<g><text class="t1" transform="translate(0,28.0) scale(0.790,1)" x="217.12 240.07 259.78 272.18 280.98 300.41 319.33 338.26 357.69 379.76 392.04 401.67 420.92 439.08 450.15 459.54 471.22 491.25 502.41 523.97 538.29 549.97 569.68 585.34 597.47 623.10 642.62 653.78 672.71 692.42 705.43 724.25 733.05 752.48 771.22 790.92 804.65 824.08 843.51 865.58 878.35 901.12 918.17 937.89 950.90 969.72 978.52 997.95 1016.69" y="0">Caribbean Institute for Meteorology and Hydrology</text><text class="t2" transform="translate(0,55.0) scale(0.880,1)" x="85.66 106.77 126.67 146.93 159.65 179.03 198.92 219.52 230.86 250.23 272.93 286.88 307.14 319.87 339.60 357.57 366.47 385.85 395.44 407.31 427.91 439.25 448.15 468.04 485.98 501.17 532.59 563.47 582.89 592.14 610.29 631.93 656.19 666.74 687.86 707.24 715.61 724.51 748.34 762.82 783.76 803.85 827.92 842.40 863.34 889.70 907.33 928.27 951.49 965.97 986.91 1007.85 1028.80" y="0">Aggregated precipitation(mm) TNT Valid 01Z 10/05 2015</text></g>
</svg></body></html>
